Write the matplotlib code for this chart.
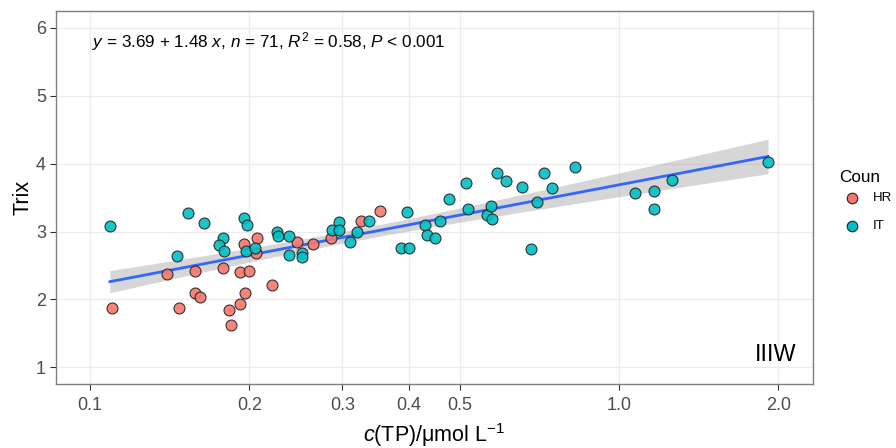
import numpy as np
import matplotlib
matplotlib.use("Agg")
import matplotlib.pyplot as plt
from matplotlib.lines import Line2D

plt.rcParams['font.family'] = ['Liberation Sans', 'DejaVu Sans']
plt.rcParams['mathtext.fontset'] = 'custom'
plt.rcParams['mathtext.rm'] = 'Liberation Sans'
plt.rcParams['mathtext.it'] = 'Liberation Sans:italic'

# HR points
hr_tp = [0.110, 0.140, 0.158, 0.158, 0.161, 0.147, 0.178, 0.183, 0.185, 0.192, 0.200,
         0.192, 0.196, 0.195, 0.207, 0.206, 0.221, 0.246, 0.264, 0.285, 0.325, 0.353]
hr_trix = [1.88, 2.37, 2.42, 2.09, 2.03, 1.88, 2.47, 1.84, 1.62, 2.40, 2.42,
           1.93, 2.10, 2.82, 2.91, 2.68, 2.22, 2.85, 2.81, 2.90, 3.15, 3.31]

# IT points
it_tp = [0.109, 0.153, 0.164, 0.146, 0.178, 0.175, 0.179, 0.195, 0.198, 0.197, 0.205,
         0.226, 0.227, 0.238, 0.238, 0.251, 0.252, 0.287, 0.295, 0.295, 0.310, 0.320,
         0.337, 0.397, 0.387, 0.401, 0.430, 0.433, 0.449, 0.459, 0.478, 0.514, 0.519,
         0.564, 0.572, 0.576, 0.588, 0.612, 0.654, 0.681, 0.701, 0.720, 0.746, 0.826,
         1.072, 1.166, 1.162, 1.258, 1.913]
it_trix = [3.08, 3.28, 3.13, 2.64, 2.91, 2.80, 2.72, 3.20, 3.09, 2.71, 2.76,
           2.99, 2.94, 2.94, 2.65, 2.68, 2.62, 3.03, 3.14, 3.02, 2.84, 3.00,
           3.15, 3.29, 2.76, 2.76, 3.10, 2.95, 2.91, 3.15, 3.48, 3.72, 3.34,
           3.24, 3.38, 3.18, 3.86, 3.74, 3.66, 2.75, 3.44, 3.86, 3.64, 3.95,
           3.57, 3.60, 3.34, 3.76, 4.02]

x_ticks = [0.1, 0.2, 0.3, 0.4, 0.5, 1.0, 2.0]
x_ticklabels = ['0.1', '0.2', '0.3', '0.4', '0.5', '1.0', '2.0']
y_ticks = [1, 2, 3, 4, 5, 6]
groups = ['HR', 'IT']
colors = ['#F8766D', '#00BFC4']

# lm fit on log10(x), with 95% band like geom_smooth
x_all = np.log10(np.array(hr_tp + it_tp))
y_all = np.array(hr_trix + it_trix)
n = len(x_all)
b1, b0 = np.polyfit(x_all, y_all, 1)
resid = y_all - (b0 + b1 * x_all)
s = np.sqrt(np.sum(resid ** 2) / (n - 2))
xm = x_all.mean()
sxx = np.sum((x_all - xm) ** 2)
xg = np.linspace(x_all.min(), x_all.max(), 80)
yg = b0 + b1 * xg
se = s * np.sqrt(1.0 / n + (xg - xm) ** 2 / sxx)
tcrit = 1.995

fig = plt.figure(figsize=(8.96, 4.48), dpi=100)
ax = fig.add_axes([0.0622, 0.1422, 0.8448, 0.8332])

ax.fill_between(10 ** xg, yg - tcrit * se, yg + tcrit * se, color='#999999', alpha=0.4, lw=0, zorder=2)
ax.plot(10 ** xg, yg, color='#3366FF', lw=2, zorder=3)

ax.scatter(hr_tp, hr_trix, s=62, facecolor=colors[0], edgecolor='#222222', lw=0.8, alpha=0.9, zorder=4)
ax.scatter(it_tp, it_trix, s=62, facecolor=colors[1], edgecolor='#222222', lw=0.8, alpha=0.9, zorder=4)

ax.set_xscale('log')
ax.set_xlim(0.0861, 2.323)
ax.set_ylim(0.75, 6.25)
ax.set_xticks(x_ticks)
ax.set_xticklabels(x_ticklabels)
ax.xaxis.set_minor_locator(matplotlib.ticker.NullLocator())
ax.set_yticks(y_ticks)

ax.grid(True, color='#EBEBEB', lw=0.9, zorder=0)
ax.set_axisbelow(True)
for sp in ax.spines.values():
    sp.set_color('#7F7F7F')
    sp.set_linewidth(1.0)
ax.tick_params(axis='both', colors='#333333', labelcolor='#4D4D4D', labelsize=13, length=4, width=0.8, pad=3)
ax.tick_params(axis='x', pad=5)

ax.set_xlabel(r'$c$(TP)/μmol L$^{-1}$', fontsize=15.5, color='black', labelpad=5)
ax.set_ylabel('Trix', fontsize=15.5, color='black', labelpad=2)

ax.text(0.1009, 5.80, r'$y$ = 3.69 + 1.48 $x$, $n$ = 71, $R^2$ = 0.58, $P$ < 0.001',
        fontsize=12.3, ha='left', va='center')
ax.text(2.168, 1.19, 'IIIW', fontsize=16.8, ha='right', va='center')

# legend drawn by hand in figure pixels
fig.text(839 / 896, 1 - 177 / 448, 'Coun', fontsize=12.3, ha='left', va='center')
for i, (g, c) in enumerate(zip(groups, colors)):
    yy = 1 - (198 + 28 * i) / 448
    fig.add_artist(Line2D([852 / 896], [yy], marker='o', ls='', markersize=7.6,
                          markerfacecolor=c, markeredgecolor='#222222', markeredgewidth=0.8))
    fig.text(873 / 896, yy, g, fontsize=9.5, ha='left', va='center')

fig.savefig('out.png', dpi=100)
